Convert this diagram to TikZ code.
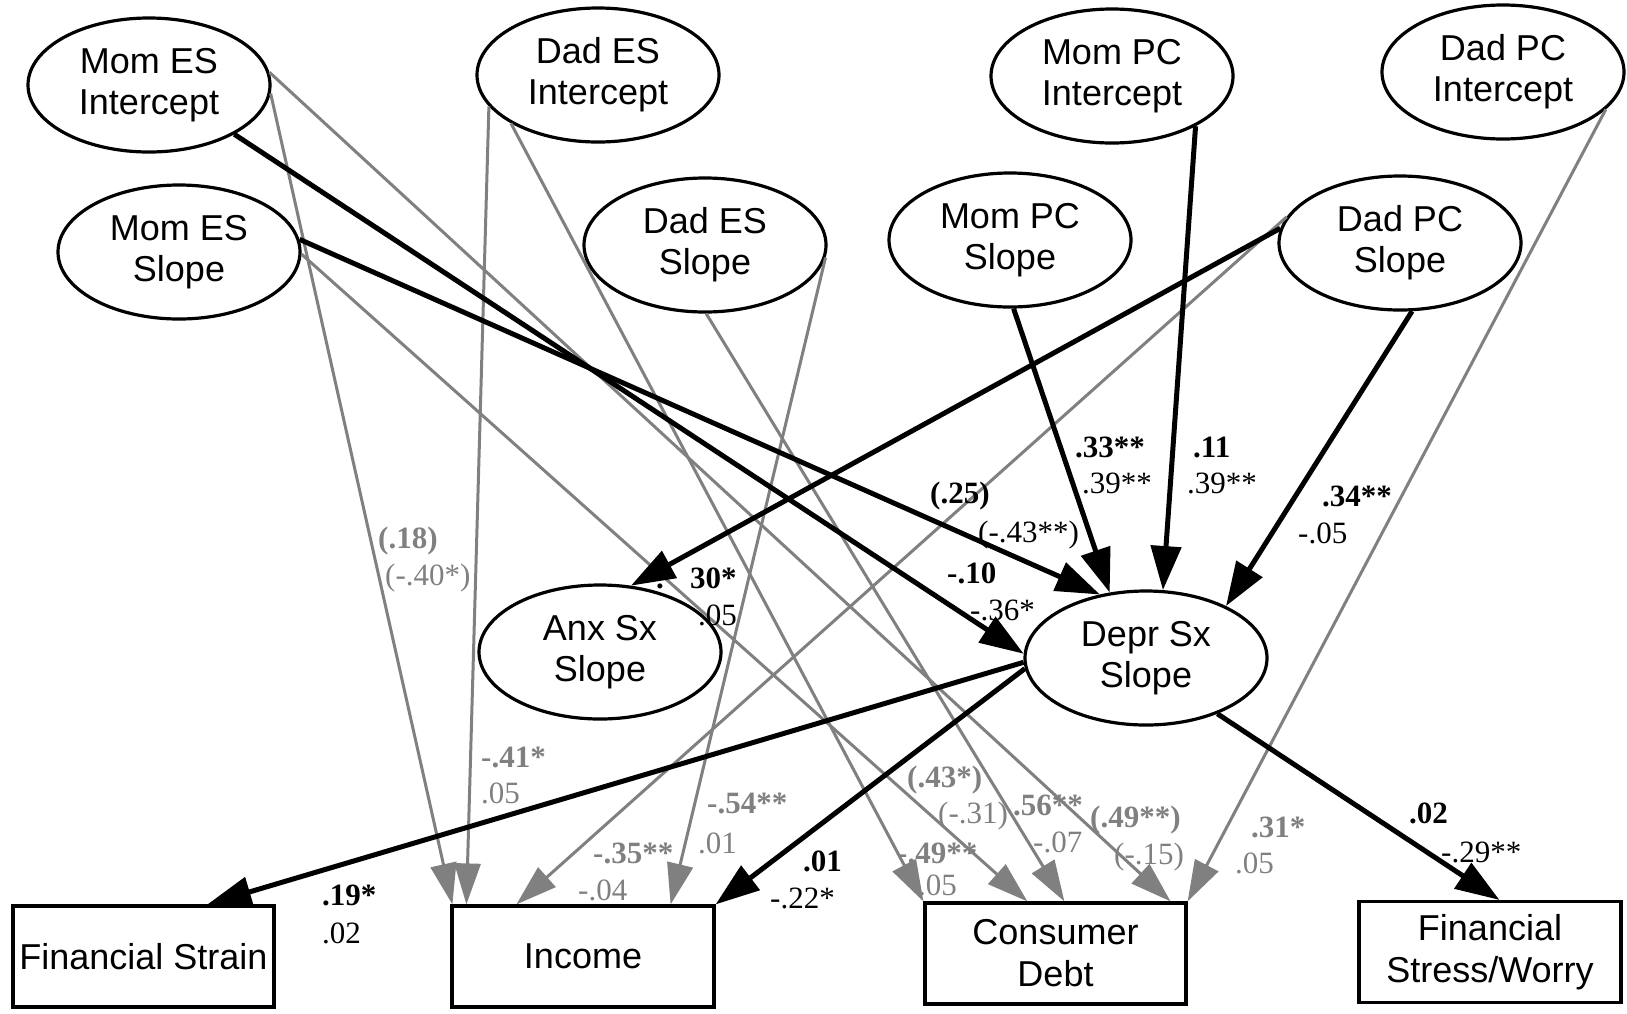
\documentclass[tikz,border=0pt]{standalone}
\usepackage{fontspec}
\setmainfont{Liberation Serif}
\setsansfont{Liberation Sans}
\usetikzlibrary{shapes.geometric,arrows.meta,calc}
\definecolor{gr}{RGB}{128,128,128}
\begin{document}
\begin{tikzpicture}[x=1pt,y=-1pt,
  ell/.style={ellipse,draw,line width=3.2pt,minimum width=242pt,minimum height=134pt,inner sep=0pt,align=center,font=\sffamily\fontsize{36}{41}\selectfont},
  box/.style={rectangle,draw,line width=3.2pt,minimum width=262pt,minimum height=101pt,inner sep=0pt,align=center,font=\sffamily\fontsize{36}{42}\selectfont},
  blk/.style={line width=5pt,-{Triangle[length=44pt,width=30pt]}},
  gry/.style={color=gr,line width=3pt,-{Triangle[length=41pt,width=26pt]}},
  lb/.style={anchor=base west,inner sep=0pt,font=\fontsize{31}{31}\selectfont},
  lbb/.style={anchor=base west,inner sep=0pt,font=\bfseries\fontsize{31}{31}\selectfont},
]
\useasboundingbox (0,0) rectangle (1627,1013);
% latent nodes
\node[ell] (mei) at (149,85) {Mom ES\\Intercept};
\node[ell] (dei) at (598,75) {Dad ES\\Intercept};
\node[ell] (mpi) at (1112,76) {Mom PC\\Intercept};
\node[ell] (dpi) at (1503,72) {Dad PC\\Intercept};
\node[ell] (mes) at (179,252) {Mom ES\\Slope};
\node[ell] (des) at (705,245) {Dad ES\\Slope};
\node[ell] (mps) at (1010,240) {Mom PC\\Slope};
\node[ell] (dps) at (1400,243) {Dad PC\\Slope};
\node[ell] (anx) at (600,652) {Anx Sx\\Slope};
\node[ell] (depr) at (1146,658) {Depr Sx\\Slope};
% outcome boxes
\node[box,minimum width=261pt] (fs) at (143.5,956.5) {Financial Strain};
\node[box] (inc) at (583,956.5) {Income};
\node[box,minimum width=261pt] (cd) at (1055.5,953.5) {Consumer\\Debt};
\node[box] (fsw) at (1490,952) {Financial\\Stress/Worry};
% gray paths
\draw[gry] (mei.-4) -- ($(inc.north west)+(2,0)$);
\draw[gry] (dei.196) -- ($(inc.north west)+(16,0)$);
\draw[gry] (dps.167) -- ($(inc.north west)+(66,0)$);
\draw[gry] (des.-6) -- ($(inc.north east)+(-45,0)$);
\draw[gry] (dei.209) -- (cd.north west);
\draw[gry] (mes.-1) -- ($(cd.north west)+(104,0)$);
\draw[gry] (des.-89) -- ($(cd.north west)+(141,0)$);
\draw[gry] (mei.6) -- ($(cd.north east)+(-17,0)$);
\draw[gry] (dpi.-20) -- (cd.north east);
% black paths
\draw[blk] (mei.-30) -- (depr.178);
\draw[blk] (mes.6) -- (depr.126);
\draw[blk] (mps.-87) -- (depr.119);
\draw[blk] (mpi.-31) -- (depr.76);
\draw[blk] (dps.-80) -- (depr.33);
\draw[blk] (dps.173) -- (anx.65);
\draw[blk] (depr.182) -- ($(fs.north west)+(196,0)$);
\draw[blk] (depr.185) -- (inc.north east);
\draw[blk] (depr.-38) -- ($(fsw.north west)+(142,0)$);
% black labels
\node[lbb] (l1a) at (947,583) {-.10};
\node[lb]  (l1b) at (970,620) {-.36*};
\node[lbb] (l2a) at (930,503) {(.25)};
\node[lb]  (l2b) at (978,542) {(-.43**)};
\node[lbb] (l3a) at (1075,457) {.33**};
\node[lb]  (l3b) at (1082,493) {.39**};
\node[lbb] (l4a) at (1193,457) {.11};
\node[lb]  (l4b) at (1187,493) {.39**};
\node[lbb] (l5a) at (1322,506) {.34**};
\node[lb]  (l5b) at (1298,543) {-.05};
\node[lbb] (l6d) at (656,588) {.};
\node[lbb] (l6a) at (690,588) {30*};
\node[lb]  (l6b) at (698,625) {.05};
\node[lbb] (l7a) at (322,905) {.19*};
\node[lb]  (l7b) at (322,943) {.02};
\node[lbb] (l8a) at (803,871) {.01};
\node[lb]  (l8b) at (770,908) {-.22*};
\node[lbb] (l9a) at (1409,823) {.02};
\node[lb]  (l9b) at (1441,862) {-.29**};
% gray labels
\begin{scope}[color=gr]
\node[lbb] (g1a) at (378,548) {(.18)};
\node[lb]  (g1b) at (385,585) {(-.40*)};
\node[lbb] (g2a) at (481,767) {-.41*};
\node[lb]  (g2b) at (481,803) {.05};
\node[lbb] (g3a) at (593,863) {-.35**};
\node[lb]  (g3b) at (578,900) {-.04};
\node[lbb] (g4a) at (707,813) {-.54**};
\node[lb]  (g4b) at (698,853) {.01};
\node[lbb] (g5a) at (897,863) {-.49**};
\node[lb]  (g5b) at (918,895) {.05};
\node[lbb] (g6a) at (907,787) {(.43*)};
\node[lb]  (g6b) at (938,823) {(-.31)};
\node[lbb] (g7a) at (1013,815) {.56**};
\node[lb]  (g7b) at (1033,852) {-.07};
\node[lbb] (g8a) at (1090,827) {(.49**)};
\node[lb]  (g8b) at (1114,864) {(-.15)};
\node[lbb] (g9a) at (1251,837) {.31*};
\node[lb]  (g9b) at (1235,873) {.05};
\end{scope}
\end{tikzpicture}
\end{document}
